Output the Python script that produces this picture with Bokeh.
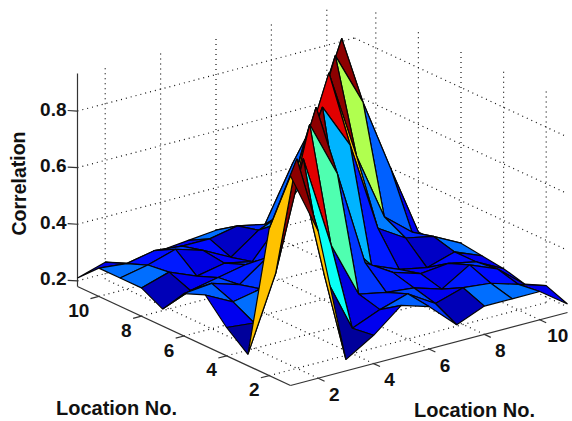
import math
from bokeh.plotting import figure
from bokeh.models import Range1d
from bokeh.core.properties import value
from bokeh.embed import file_html
from bokeh.resources import INLINE

locations = [1, 2, 3, 4, 5, 6, 7, 8, 9, 10, 11]
tick_locations = [2, 4, 6, 8, 10]
tick_labels = ["2", "4", "6", "8", "10"]
z_ticks = [0.2, 0.4, 0.6, 0.8]
z_labels = ["0.2", "0.4", "0.6", "0.8"]
axis_label = "Location No."
z_axis_label = "Correlation"

# correlation[y-1][x-1]
correlation = [
    [.92, .70, .22, .28, .36, .33, .24, .28, .28, .28, .21],
    [.70, .92, .48, .27, .31, .34, .28, .31, .30, .27, .24],
    [.22, .48, .86, .53, .33, .31, .30, .27, .33, .29, .21],
    [.28, .27, .53, .92, .72, .38, .32, .29, .30, .28, .23],
    [.36, .31, .33, .63, .92, .42, .31, .27, .25, .28, .24],
    [.33, .34, .31, .38, .62, .86, .70, .38, .32, .30, .25],
    [.24, .28, .30, .32, .31, .63, .92, .60, .36, .28, .21],
    [.28, .31, .27, .29, .27, .38, .60, .92, .73, .47, .22],
    [.28, .30, .33, .30, .25, .32, .36, .65, .92, .35, .32],
    [.28, .27, .29, .28, .28, .30, .28, .47, .35, .60, .36],
    [.21, .24, .21, .23, .24, .25, .21, .22, .32, .36, .55],
]
# value that colours a facet starting at [y-1][x-1] where it differs from the height
facet_values = {(3, 2): .67, (5, 4): .67, (7, 0): .37, (8, 0): .37, (0, 7): .37, (0, 8): .37,
                (9, 4): .37, (4, 9): .37, (3, 1): .37}


def project(x, y, z):
    return (290 + 27.7 * (x - 1) - 21.3 * (y - 1),
            385 - 7.3 * (x - 1) - 9.9 * (y - 1) - 283 * (z - 0.18))


def jet(v, lo=0.2, hi=0.93):
    t = min(1, max(0, (v - lo) / (hi - lo)))
    ch = lambda c: max(0, min(1, 1.5 - abs(4 * t - c)))
    return "#%02x%02x%02x" % tuple(int(round(255 * ch(c))) for c in (3, 2, 1))


p = figure(width=572, height=421, output_backend="svg", toolbar_location=None,
           x_range=Range1d(0, 572), y_range=Range1d(421, 0), min_border=0)
p.axis.visible = False
p.grid.visible = False
p.outline_line_color = None

zlo, zhi = 0.18, 0.933
gx0, gy0, gx1, gy1 = [], [], [], []


def grid(a, b):
    A, B = project(*a), project(*b)
    gx0.append(A[0]); gy0.append(A[1]); gx1.append(B[0]); gy1.append(B[1])


for t in tick_locations:
    grid((t, 1, zlo), (t, 11, zlo))
    grid((1, t, zlo), (11, t, zlo))
    grid((t, 11, zlo), (t, 11, zhi))
    grid((11, t, zlo), (11, t, zhi))
for z in z_ticks:
    grid((1, 11, z), (11, 11, z))
    grid((11, 11, z), (11, 1, z))
p.segment(gx0, gy0, gx1, gy1, line_color="#111111", line_width=1.2, line_dash="1 4")

# box lines and ticks
ax0, ay0, ax1, ay1 = [], [], [], []


def axis_seg(a, b):
    A, B = project(*a), project(*b)
    ax0.append(A[0]); ay0.append(A[1]); ax1.append(B[0]); ay1.append(B[1])


axis_seg((1, 1, zlo), (11, 1, zlo))
axis_seg((1, 1, zlo), (1, 11, zlo))
axis_seg((1, 11, zlo), (1, 11, zhi))
for t in tick_locations:
    axis_seg((t, 1, zlo), (t, 0.7, zlo))
    axis_seg((1, t, zlo), (0.7, t, zlo))
for z in z_ticks:
    axis_seg((1, 11, z), (0.8, 11.2, z))
p.segment(ax0, ay0, ax1, ay1, line_color="#333333", line_width=1.2)

# surface
faces = []
n = len(locations)
for j in range(n - 1):
    for i in range(n - 1):
        corners = [(i, j), (i + 1, j), (i + 1, j + 1), (i, j + 1)]
        pts = [(locations[a], locations[b], correlation[b][a]) for a, b in corners]
        depth = sum(696 * q[0] + 906 * q[1] - 3728 * q[2] for q in pts) / 4
        faces.append((depth, pts, facet_values.get((j, i), correlation[j][i])))
faces.sort(key=lambda f: -f[0])
xs = [[project(*q)[0] for q in f[1]] for f in faces]
ys = [[project(*q)[1] for q in f[1]] for f in faces]
cs = [jet(f[2]) for f in faces]
p.patches(xs, ys, fill_color=cs, line_color="#050505", line_width=1.2)

FONT = value("Liberation Sans")
tx, ty, tt = [], [], []
for t, lab in zip(tick_locations, tick_labels):
    a = project(t, 1, zlo)
    tx.append(a[0] + 16 + (2 if t == 10 else 0)); ty.append(a[1] + 16); tt.append(lab)
    b = project(1, t, zlo)
    tx.append(b[0] - 15 - (5 if t == 10 else 0)); ty.append(b[1] + 14); tt.append(lab)
p.text(tx, ty, tt, text_font=FONT, text_font_style="bold", text_font_size="19px",
       text_align="center", text_baseline="middle", text_color="#111111")
zt_y = [project(1, 11, z)[1] - 2 for z in z_ticks]
p.text([66] * len(z_ticks), zt_y, z_labels, text_font=FONT, text_font_style="bold",
       text_font_size="19px", text_align="right", text_baseline="middle", text_color="#111111")
p.text([116, 474], [407, 409], [axis_label, axis_label], text_font=FONT, text_font_style="bold",
       text_font_size="20px", text_align="center", text_baseline="middle", text_color="#111111")
p.text([18], [183], [z_axis_label], angle=[math.pi / 2], text_font=FONT, text_font_style="bold",
       text_font_size="19.5px", text_align="center", text_baseline="middle", text_color="#111111")

open("out.html", "w").write(file_html(p, INLINE))
